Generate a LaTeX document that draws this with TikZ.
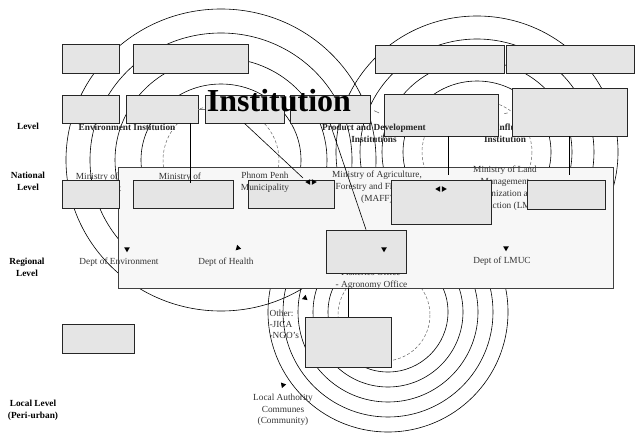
\documentclass[tikz,border=0pt]{standalone}
\usepackage{fontspec}
\setmainfont{Liberation Serif}
\usetikzlibrary{shapes.geometric}

\begin{document}
\begin{tikzpicture}[x=1pt,y=-1pt,>=stealth,line width=0.6pt]
    % styles
    \tikzset{
      gbox/.style={draw=black!85,fill=black!10,line width=0.8pt,inner sep=0pt},
      frame/.style={draw=black!75,fill=black!3,line width=0.8pt,inner sep=0pt},
      lvl/.style={font=\fontsize{9.3}{12}\selectfont\bfseries,align=center},
      inst/.style={font=\fontsize{9.3}{12}\selectfont\bfseries,align=center,text=black!85},
      org/.style={font=\fontsize{9.3}{12}\selectfont,align=center,text=black!80},
      tipm/.style={regular polygon,regular polygon sides=3,fill=black,inner sep=0pt,minimum size=6.5pt},
      ring/.style={draw=black,line width=0.6pt},
      dring/.style={draw=black!60,line width=0.5pt,densely dashed},
    }
    \useasboundingbox (0,0) rectangle (636,439);

    % rings
    \foreach \rx/\ry in {155/151,131/127,106/102,80/76}
      {\draw[ring] (221,160) ellipse[x radius=\rx,y radius=\ry];}
    \draw[dring] (221,160) ellipse[x radius=58,y radius=55];
    \foreach \rx/\ry in {141/136,117/113,95/91,74/71}
      {\draw[ring] (477,152) ellipse[x radius=\rx,y radius=\ry];}
    \draw[dring] (477,152) ellipse[x radius=55,y radius=52];
    \foreach \r in {60,75,90,105,120}
      {\draw[ring] (388,312) circle[radius=\r];}
    \draw[dring] (384,315) circle[radius=46];

    % frame
    \node[frame,minimum width=495,minimum height=121] (big) at (365.5,227.5) {};

    % level labels
    \node[lvl] (lv0) at (28,126) {Level};
    \node[lvl] (lv1) at (28,181) {National\\Level};
    \node[lvl] (lv2) at (27,267) {Regional\\Level};
    \node[lvl] (lv3) at (33,410) {Local Level\\(Peri-urban)};

    % institutions
    \node[inst] (envi) at (127,127) {Environment Institution};
    \node[inst] (majr) at (505,133) {Major Influencing\\Institution};
    \node[org] (moe) at (97,182) {Ministry of\\Environment};
    \node[org] (moh) at (180,182) {Ministry of\\Health};
    \node[org] (maff) at (377,187) {Ministry of Agriculture,\\Forestry and Fisheries\\(MAFF)};
    \node[org] (lmuc) at (505,188) {Ministry of Land\\Management\\Urbanization and\\Construction (LMUC)};
    \node[org] (denv) at (119,262) {Dept of Environment};
    \node[org] (dhea) at (226,262) {Dept of Health};
    \node[org] (dlmu) at (502,261) {Dept of LMUC};
    \node[org,align=left,anchor=west] (offc) at (332,279) {- Fisheries Office\\- Agronomy Office};
    \node[org,align=left,anchor=west,font=\fontsize{9.3}{11}\selectfont] (othr) at (266,324) {Other:\\-JICA\\-NGO's};
    \node[org,font=\fontsize{9.3}{11.5}\selectfont] (comm) at (283,410) {Local Authority\\Communes\\(Community)};

    % boxes
    \node[gbox,minimum width=57,minimum height=29] (b1) at (90.5,58.5) {};
    \node[gbox,minimum width=115,minimum height=29] (b2) at (190.5,58.5) {};
    \node[gbox,minimum width=57,minimum height=28] (b3) at (90.5,109) {};
    \node[gbox,minimum width=72,minimum height=28] (b4) at (162,109) {};
    \node[gbox,minimum width=79,minimum height=28] (b5) at (244.5,109) {};
    \node[gbox,minimum width=129,minimum height=28] (b7) at (439.5,59) {};
    \node[gbox,minimum width=128,minimum height=28] (b8) at (570,59) {};
    \node[gbox,minimum width=114,minimum height=42] (b9) at (441,115) {};
    \node[gbox,minimum width=115,minimum height=48] (b10) at (569.5,112) {};
    \node[gbox,minimum width=57,minimum height=28] (b11) at (90.5,194) {};
    \node[gbox,minimum width=100,minimum height=28] (b12) at (183,194) {};
    \node[gbox,minimum width=86,minimum height=28] (b13) at (291,194) {};
    \node[gbox,minimum width=100,minimum height=44] (b14) at (441,202) {};
    \node[gbox,minimum width=78,minimum height=29] (b15) at (566,194.5) {};
    \node[gbox,minimum width=80,minimum height=43] (b16) at (366,251.5) {};
    \node[gbox,minimum width=72,minimum height=29] (b17) at (98,338.5) {};
    \node[gbox,minimum width=86,minimum height=50] (b18) at (348,342) {};

    \node[inst] (prod) at (374,133) {Product and Development\\Institutions};
    \node[gbox,minimum width=80,minimum height=28] (b6) at (330,109) {};
    \node[org] (ppm) at (265,182) {Phnom Penh\\Municipality};

    % connectors
    \coordinate (pp) at (303,178);
    \coordinate (vA) at (190,183);
    \coordinate (vB) at (448,175);
    \coordinate (vC) at (569.5,175);
    \draw (b5.south) -- (pp);
    \draw (b6.south) -- (b16.north);
    \draw (b4.south -| vA) -- (vA);
    \draw (b9.south -| vB) -- (vB);
    \draw (b10.south) -- (vC);
    \draw (b18.north) -- (b18.north |- big.south);
    \draw[black!55] (b4.east) -- (b5.west);
    \draw[black!55,shorten <=4,shorten >=5] (b6.east) -- (b9.west);
    \draw[black!55,shorten <=6,shorten >=4] (b9.east) -- (b10.west);

    % arrow marks
    \node[tipm,rotate=90] (m1) at (308.5,182) {};
    \node[tipm,rotate=-90] (m2) at (313.5,182) {};
    \node[tipm,rotate=90] (m3) at (438.5,189) {};
    \node[tipm,rotate=-90] (m4) at (443.5,189) {};
    \node[tipm,rotate=180] (m5) at (127,249) {};
    \node[tipm,rotate=15] (m6) at (238,248) {};
    \node[tipm,rotate=180] (m7) at (384,249) {};
    \node[tipm,rotate=180] (m8) at (506,248) {};
    \node[tipm,rotate=-10] (m9) at (305,298) {};
    \node[tipm,rotate=40] (m10) at (283,385) {};

    % title
    \node[font=\fontsize{32}{32}\selectfont\bfseries,inner sep=0pt] (ttl) at (279,101) {Institution};
\end{tikzpicture}
\end{document}
